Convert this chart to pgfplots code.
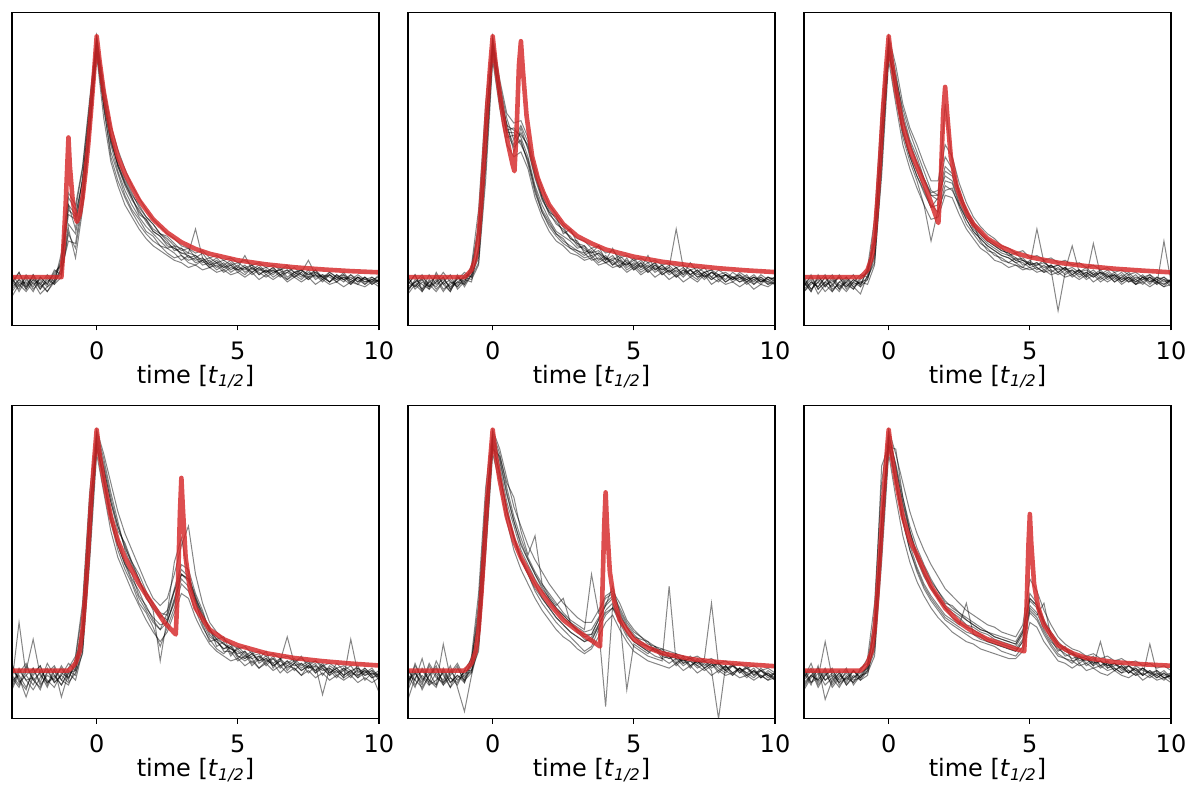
\documentclass[border=0pt]{standalone}
\usepackage{fontspec}
\setmainfont{DejaVu Sans}
\usepackage{pgfplots}
\usepackage{pgfplotstable}
\pgfplotsset{compat=1.18}
\definecolor{tred}{RGB}{214,39,40}

\pgfplotstableread{
t a b c d e f g h i j
-3 -0.05 -0.01 -0.03 0.01 -0.06 -0.02 -0.08 -0.02 0.00 -0.04
-2.75 -0.01 -0.04 0.02 -0.03 -0.02 -0.05 -0.03 0.02 -0.06 -0.01
-2.5 -0.03 0.00 -0.05 -0.02 -0.04 0.01 -0.06 -0.04 -0.01 -0.05
-2.25 0.00 -0.05 -0.01 -0.06 0.01 -0.03 -0.02 -0.01 -0.04 0.01
-2 -0.04 -0.02 -0.03 0.00 -0.05 -0.01 -0.07 -0.05 0.00 -0.03
-1.75 -0.02 -0.06 0.01 -0.03 -0.01 -0.04 -0.04 0.00 -0.03 -0.06
-1.5 0.01 -0.02 -0.02 0.03 -0.03 0.00 -0.02 -0.03 0.02 -0.01
-1.25 0.06 0.02 0.08 0.01 0.04 0.05 0.10 0.00 0.05 0.03
-1 0.28 0.22 0.33 0.18 0.26 0.30 0.35 0.20 0.30 0.15
-0.75 0.25 0.18 0.28 0.12 0.24 0.20 0.30 0.08 0.26 0.14
-0.5 0.40 0.34 0.45 0.30 0.36 0.42 0.46 0.28 0.40 0.33
-0.25 0.70 0.62 0.72 0.60 0.65 0.68 0.74 0.58 0.68 0.62
0 0.99 0.95 1.00 0.93 0.97 0.96 1.00 0.92 0.98 0.94
0.25 0.76 0.70 0.78 0.72 0.74 0.71 0.80 0.66 0.75 0.73
0.5 0.58 0.52 0.60 0.55 0.57 0.50 0.63 0.48 0.58 0.56
0.75 0.47 0.43 0.49 0.44 0.46 0.40 0.53 0.38 0.46 0.47
1 0.39 0.34 0.41 0.36 0.38 0.33 0.45 0.30 0.39 0.40
1.25 0.33 0.28 0.35 0.30 0.32 0.27 0.38 0.25 0.33 0.34
1.5 0.27 0.24 0.29 0.25 0.28 0.22 0.33 0.20 0.26 0.30
1.75 0.24 0.19 0.25 0.21 0.23 0.18 0.28 0.16 0.24 0.25
2 0.20 0.17 0.22 0.18 0.19 0.15 0.24 0.13 0.19 0.22
2.25 0.18 0.13 0.18 0.15 0.17 0.13 0.21 0.11 0.17 0.18
2.5 0.15 0.12 0.17 0.12 0.14 0.10 0.18 0.09 0.13 0.16
2.75 0.11 0.10 0.14 0.13 0.12 0.08 0.16 0.07 0.12 0.13
3 0.12 0.07 0.11 0.09 0.10 0.09 0.13 0.06 0.10 0.12
3.25 0.08 0.09 0.12 0.07 0.10 0.06 0.12 0.04 0.09 0.10
3.5 0.09 0.06 0.08 0.08 0.20 0.05 0.10 0.05 0.07 0.09
3.75 0.06 0.07 0.10 0.05 0.08 0.07 0.11 0.03 0.08 0.07
4 0.07 0.04 0.06 0.06 0.05 0.04 0.08 0.04 0.05 0.08
4.25 0.04 0.06 0.08 0.03 0.07 0.05 0.09 0.02 0.06 0.06
4.5 0.06 0.03 0.05 0.05 0.04 0.02 0.07 0.03 0.04 0.07
4.75 0.03 0.05 0.07 0.02 0.06 0.04 0.08 0.01 0.05 0.05
5 0.05 0.02 0.04 0.04 0.03 0.03 0.06 0.02 0.03 0.06
5.25 0.02 0.04 0.09 0.03 0.05 0.01 0.07 0.00 0.04 0.04
5.5 0.04 0.01 0.03 0.05 0.02 0.04 0.05 0.02 0.02 0.05
5.75 0.01 0.03 0.05 0.01 0.04 0.02 0.06 -0.01 0.04 0.03
6 0.03 0.02 0.02 0.03 0.01 0.00 0.04 0.01 0.02 0.04
6.25 0.00 0.04 0.04 0.01 0.03 0.02 0.05 -0.01 0.03 0.02
6.5 0.02 0.01 0.01 0.04 0.00 0.03 0.03 0.01 0.01 0.03
6.75 0.03 -0.01 0.03 0.00 0.02 -0.01 0.04 -0.02 0.02 0.05
7 0.01 0.02 0.00 0.02 0.04 0.01 0.02 0.00 0.00 0.02
7.25 -0.01 0.00 0.02 0.01 0.01 0.03 0.03 -0.02 0.02 0.03
7.5 0.02 0.03 0.07 -0.01 0.00 0.00 0.01 0.00 -0.01 0.01
7.75 0.00 -0.01 0.01 0.02 0.03 0.01 0.03 -0.03 0.01 0.02
8 0.01 0.01 -0.01 0.00 -0.01 -0.02 0.00 -0.01 0.00 0.00
8.25 -0.02 0.00 0.02 -0.02 0.01 0.01 0.02 -0.03 -0.02 0.01
8.5 0.00 -0.02 0.00 0.01 -0.02 -0.01 0.00 -0.02 0.01 -0.01
8.75 -0.01 0.01 -0.02 -0.01 0.00 0.02 0.01 -0.04 -0.01 0.00
9 0.01 -0.03 0.01 -0.03 -0.01 -0.02 -0.01 -0.02 0.00 -0.02
9.25 -0.02 0.00 -0.01 0.00 -0.03 0.00 0.01 -0.03 -0.02 0.00
9.5 0.00 -0.02 -0.03 -0.02 0.00 -0.03 -0.01 -0.04 0.00 -0.01
9.75 -0.03 -0.01 0.00 -0.01 -0.02 -0.01 0.00 -0.02 -0.03 -0.02
10 -0.01 -0.02 -0.02 -0.03 -0.01 0.00 -0.02 -0.04 -0.01 0.01
}\tA

\pgfplotstableread{
t a b c d e f g h i j
-3 -0.04 0.00 -0.06 -0.02 -0.03 -0.05 -0.07 0.00 -0.03 -0.05
-2.75 -0.02 -0.05 -0.01 -0.04 0.01 -0.02 -0.03 -0.04 0.01 -0.02
-2.5 -0.05 -0.02 -0.03 0.00 -0.06 -0.01 -0.06 -0.01 -0.05 0.01
-2.25 0.01 -0.04 -0.05 -0.03 -0.02 -0.04 -0.01 -0.05 -0.02 -0.04
-2 -0.03 0.01 -0.02 -0.06 0.00 -0.02 -0.05 0.02 -0.04 -0.01
-1.75 -0.01 -0.03 0.02 -0.02 -0.05 0.00 -0.02 -0.03 0.00 -0.06
-1.5 -0.04 -0.06 -0.02 0.01 -0.03 -0.05 -0.06 -0.01 -0.05 -0.02
-1.25 -0.02 0.00 -0.04 -0.05 -0.01 0.01 0.00 -0.04 -0.02 -0.03
-1 0.00 -0.03 -0.01 -0.02 0.02 -0.04 -0.02 0.00 -0.03 0.01
-0.75 0.02 0.01 -0.02 0.04 0.00 0.01 0.05 -0.01 0.03 0.00
-0.5 0.18 0.08 0.12 0.22 0.06 0.10 0.28 0.05 0.20 0.12
-0.25 0.62 0.48 0.58 0.66 0.45 0.52 0.72 0.40 0.64 0.50
0 0.98 0.96 0.99 0.94 0.92 0.97 1.00 0.90 0.97 0.95
0.25 0.78 0.72 0.80 0.75 0.74 0.77 0.82 0.70 0.79 0.73
0.5 0.62 0.60 0.66 0.61 0.64 0.58 0.68 0.55 0.63 0.60
0.75 0.55 0.60 0.57 0.62 0.52 0.59 0.64 0.50 0.61 0.54
1 0.60 0.56 0.63 0.58 0.62 0.55 0.65 0.52 0.59 0.57
1.25 0.54 0.48 0.56 0.50 0.53 0.49 0.58 0.45 0.55 0.47
1.5 0.42 0.37 0.44 0.38 0.41 0.36 0.46 0.33 0.43 0.35
1.75 0.33 0.28 0.34 0.30 0.32 0.27 0.37 0.25 0.33 0.27
2 0.26 0.23 0.28 0.24 0.27 0.21 0.30 0.19 0.27 0.22
2.25 0.23 0.18 0.24 0.19 0.25 0.17 0.26 0.15 0.22 0.18
2.5 0.19 0.16 0.21 0.17 0.18 0.14 0.22 0.13 0.20 0.15
2.75 0.17 0.12 0.16 0.15 0.20 0.12 0.19 0.10 0.16 0.13
3 0.13 0.11 0.15 0.12 0.14 0.10 0.16 0.09 0.14 0.11
3.25 0.12 0.09 0.10 0.13 0.11 0.08 0.15 0.07 0.13 0.10
3.5 0.09 0.11 0.12 0.08 0.10 0.09 0.12 0.08 0.10 0.07
3.75 0.10 0.07 0.09 0.10 0.13 0.06 0.13 0.05 0.11 0.08
4 0.07 0.09 0.06 0.08 0.07 0.08 0.10 0.06 0.08 0.06
4.25 0.09 0.05 0.08 0.06 0.12 0.05 0.11 0.04 0.07 0.07
4.5 0.05 0.08 0.07 0.04 0.06 0.07 0.08 0.05 0.09 0.04
4.75 0.07 0.04 0.05 0.08 0.05 0.03 0.09 0.02 0.06 0.06
5 0.04 0.06 0.08 0.03 0.07 0.05 0.07 0.04 0.05 0.03
5.25 0.06 0.03 0.04 0.06 0.04 0.02 0.08 0.01 0.07 0.05
5.5 0.03 0.05 0.06 0.02 0.09 0.04 0.06 0.03 0.04 0.02
5.75 0.05 0.02 0.03 0.05 0.03 0.06 0.07 0.00 0.06 0.04
6 0.02 0.04 0.05 0.03 0.05 0.01 0.05 0.02 0.03 0.01
6.25 0.04 0.01 0.02 0.04 0.02 0.03 0.06 -0.01 0.05 0.03
6.5 0.01 0.03 0.04 0.20 0.04 0.00 0.04 0.01 0.02 0.00
6.75 0.03 0.00 0.01 0.04 0.01 0.03 0.05 -0.02 0.04 0.02
7 0.00 0.03 0.03 0.01 0.06 0.01 0.03 0.00 0.01 0.03
7.25 0.02 0.01 0.00 0.03 0.02 -0.01 0.04 -0.02 0.03 0.00
7.5 -0.01 0.02 0.02 0.00 0.04 0.02 0.02 0.01 0.00 0.01
7.75 0.02 -0.01 0.03 0.02 0.00 0.00 0.03 -0.03 0.02 -0.01
8 0.00 0.01 -0.01 0.01 0.03 -0.02 0.01 -0.01 0.00 0.01
8.25 0.01 -0.02 0.01 -0.01 0.01 0.01 0.02 -0.03 0.01 -0.02
8.5 -0.02 0.00 0.00 0.02 -0.01 -0.01 0.00 -0.02 -0.01 0.00
8.75 0.00 -0.01 -0.02 0.00 0.02 0.00 0.01 -0.04 0.01 -0.02
9 -0.01 0.01 0.00 -0.02 0.00 -0.03 -0.01 -0.02 -0.02 -0.01
9.25 0.01 -0.03 -0.01 0.00 -0.02 -0.01 0.00 -0.05 0.00 -0.03
9.5 -0.02 -0.01 -0.03 -0.02 0.01 0.00 -0.02 -0.03 -0.01 0.00
9.75 0.00 -0.02 0.00 -0.01 -0.01 -0.03 0.00 -0.04 -0.03 -0.02
10 -0.01 0.00 -0.02 -0.03 0.00 -0.01 -0.01 -0.02 -0.02 -0.03
}\tB

\pgfplotstableread{
t a b c d e f g h i j
-3 -0.03 -0.06 0.00 -0.04 -0.02 -0.05 -0.06 -0.01 -0.04 -0.02
-2.75 0.00 -0.03 -0.05 -0.01 -0.06 -0.02 -0.02 -0.05 0.01 -0.06
-2.5 -0.05 -0.01 -0.02 -0.07 0.01 -0.04 -0.04 -0.02 -0.05 0.00
-2.25 -0.02 -0.04 0.01 -0.03 -0.04 0.00 0.00 -0.06 -0.02 -0.03
-2 -0.04 0.00 -0.06 -0.02 -0.01 -0.03 -0.05 -0.03 0.01 -0.06
-1.75 0.01 -0.05 -0.02 0.00 -0.05 -0.06 -0.03 0.00 -0.04 -0.02
-1.5 -0.03 -0.02 -0.04 -0.05 0.00 -0.01 -0.06 -0.04 -0.02 0.00
-1.25 -0.05 0.01 -0.01 -0.02 -0.03 -0.04 -0.02 -0.01 -0.05 -0.04
-1 -0.01 -0.04 -0.03 0.01 -0.02 -0.07 -0.04 -0.03 0.00 -0.02
-0.75 0.02 -0.01 0.03 0.00 -0.03 0.01 0.04 0.00 0.02 -0.01
-0.5 0.15 0.08 0.18 0.10 0.05 0.14 0.24 0.06 0.16 0.10
-0.25 0.60 0.50 0.63 0.52 0.45 0.58 0.70 0.42 0.60 0.50
0 0.98 0.95 0.99 0.93 0.96 0.91 1.00 0.90 0.97 0.94
0.25 0.82 0.76 0.85 0.80 0.78 0.83 0.88 0.72 0.82 0.77
0.5 0.65 0.58 0.68 0.62 0.60 0.70 0.72 0.55 0.66 0.60
0.75 0.55 0.48 0.57 0.51 0.50 0.60 0.62 0.45 0.56 0.50
1 0.47 0.40 0.50 0.44 0.42 0.52 0.55 0.37 0.48 0.42
1.25 0.40 0.30 0.41 0.37 0.36 0.44 0.47 0.30 0.41 0.35
1.5 0.34 0.15 0.35 0.30 0.29 0.36 0.40 0.24 0.34 0.29
1.75 0.32 0.28 0.36 0.27 0.33 0.34 0.40 0.25 0.34 0.30
2 0.44 0.36 0.50 0.38 0.72 0.42 0.55 0.34 0.46 0.40
2.25 0.42 0.37 0.45 0.36 0.48 0.40 0.50 0.33 0.43 0.39
2.5 0.33 0.29 0.36 0.30 0.34 0.31 0.39 0.26 0.35 0.30
2.75 0.27 0.22 0.28 0.24 0.26 0.25 0.31 0.20 0.28 0.24
3 0.21 0.18 0.23 0.19 0.20 0.22 0.25 0.16 0.22 0.19
3.25 0.18 0.14 0.19 0.16 0.17 0.15 0.21 0.12 0.18 0.16
3.5 0.15 0.12 0.16 0.13 0.14 0.11 0.18 0.10 0.15 0.13
3.75 0.13 0.09 0.14 0.11 0.12 0.10 0.16 0.07 0.13 0.11
4 0.11 0.08 0.12 0.09 0.10 0.07 0.13 0.06 0.11 0.09
4.25 0.10 0.06 0.09 0.08 0.09 0.06 0.12 0.04 0.10 0.08
4.5 0.07 0.08 0.10 0.06 0.07 0.05 0.10 0.05 0.08 0.06
4.75 0.08 0.05 0.07 0.04 0.06 0.04 0.11 0.03 0.07 0.07
5 0.05 0.06 0.05 0.07 0.04 0.03 0.08 0.04 0.06 0.05
5.25 0.06 0.03 0.20 0.04 0.05 0.04 0.09 0.02 0.05 0.06
5.5 0.04 0.05 0.06 0.02 0.07 0.02 0.07 0.03 0.06 0.03
5.75 0.05 0.02 0.04 0.05 0.03 0.03 0.08 0.01 0.04 0.05
6 0.03 0.04 0.05 0.02 -0.14 0.01 0.06 0.02 0.05 0.02
6.25 0.04 0.01 0.03 0.04 0.02 0.03 0.07 0.00 0.03 0.04
6.5 0.02 0.03 0.13 0.01 0.03 0.00 0.05 0.01 0.04 0.01
6.75 0.03 0.00 0.02 0.03 0.01 0.02 0.06 -0.01 0.02 0.03
7 0.01 0.02 0.04 0.00 0.02 -0.01 0.04 0.01 0.03 0.00
7.25 0.03 0.00 0.01 0.14 0.00 0.01 0.05 -0.02 0.01 0.02
7.5 0.00 0.02 0.03 0.01 0.02 -0.02 0.03 0.00 0.02 -0.01
7.75 0.02 -0.01 0.00 0.03 0.01 0.00 0.04 -0.02 0.00 0.01
8 -0.01 0.01 0.02 0.00 -0.02 0.01 0.02 0.00 0.01 -0.02
8.25 0.01 -0.02 -0.01 0.02 0.00 -0.02 0.03 -0.03 -0.01 0.00
8.5 -0.02 0.00 0.01 -0.01 0.02 0.00 0.01 -0.01 0.00 -0.02
8.75 0.00 -0.03 -0.02 0.01 -0.01 -0.03 0.02 -0.03 -0.02 -0.01
9 -0.01 0.00 0.00 -0.02 0.01 -0.01 0.00 -0.02 0.00 -0.03
9.25 0.01 -0.02 -0.03 0.00 -0.02 0.00 0.01 -0.04 -0.01 0.00
9.5 -0.02 -0.01 0.00 -0.03 0.00 -0.02 -0.01 -0.02 -0.03 -0.02
9.75 0.00 -0.03 -0.02 0.15 -0.01 -0.04 0.00 -0.04 -0.01 -0.03
10 -0.03 -0.01 -0.01 -0.02 -0.04 -0.01 -0.02 -0.03 -0.02 -0.01
}\tC

\pgfplotstableread{
t a b c d e f g h i j
-3 -0.05 0.02 -0.08 -0.03 0.00 -0.06 -0.02 -0.07 0.03 -0.04
-2.75 0.20 -0.04 -0.01 -0.07 -0.03 0.01 -0.06 0.00 -0.05 -0.02
-2.5 -0.02 -0.08 0.03 0.00 -0.11 -0.04 0.02 -0.04 -0.02 -0.07
-2.25 -0.06 0.01 -0.04 0.13 -0.02 -0.03 -0.04 -0.08 0.01 -0.01
-2 0.00 -0.05 -0.07 -0.02 0.02 -0.08 -0.01 -0.03 -0.06 0.02
-1.75 -0.04 0.03 -0.01 -0.05 -0.06 0.00 -0.07 0.01 -0.02 -0.05
-1.5 -0.07 -0.02 0.02 -0.03 0.01 -0.05 0.00 -0.05 -0.04 -0.02
-1.25 -0.01 -0.06 -0.04 0.01 -0.11 -0.02 -0.04 -0.02 0.02 -0.06
-1 -0.03 0.00 -0.06 -0.04 -0.01 0.03 0.01 -0.05 -0.03 -0.01
-0.75 0.03 -0.02 0.01 0.05 -0.04 0.00 0.06 -0.01 0.02 0.00
-0.5 0.20 0.10 0.16 0.25 0.08 0.14 0.28 0.07 0.18 0.12
-0.25 0.66 0.52 0.62 0.70 0.48 0.60 0.74 0.45 0.64 0.55
0 0.98 0.94 0.99 0.92 0.96 0.95 1.00 0.90 0.97 0.93
0.25 0.86 0.78 0.88 0.82 0.80 0.84 0.90 0.74 0.84 0.79
0.5 0.72 0.62 0.74 0.66 0.64 0.70 0.78 0.58 0.70 0.63
0.75 0.60 0.50 0.62 0.55 0.52 0.58 0.66 0.47 0.60 0.52
1 0.52 0.42 0.50 0.45 0.44 0.53 0.57 0.40 0.51 0.44
1.25 0.44 0.36 0.43 0.38 0.40 0.45 0.50 0.33 0.45 0.37
1.5 0.38 0.28 0.37 0.33 0.31 0.40 0.43 0.27 0.38 0.30
1.75 0.30 0.24 0.32 0.26 0.27 0.33 0.36 0.21 0.31 0.25
2 0.26 0.18 0.28 0.22 0.21 0.27 0.30 0.16 0.25 0.20
2.25 0.22 0.10 0.24 0.19 0.17 0.23 0.27 0.12 0.04 0.17
2.5 0.25 0.18 0.23 0.20 0.24 0.21 0.30 0.16 0.22 0.20
2.75 0.33 0.26 0.34 0.29 0.45 0.28 0.40 0.24 0.33 0.30
3 0.42 0.36 0.44 0.38 0.55 0.40 0.52 0.32 0.40 0.40
3.25 0.39 0.33 0.42 0.35 0.40 0.37 0.60 0.30 0.38 0.38
3.5 0.31 0.25 0.32 0.28 0.30 0.29 0.40 0.22 0.30 0.29
3.75 0.23 0.18 0.25 0.20 0.22 0.19 0.28 0.16 0.24 0.22
4 0.17 0.13 0.16 0.14 0.18 0.12 0.20 0.11 0.17 0.15
4.25 0.14 0.09 0.13 0.12 0.10 0.13 0.16 0.08 0.13 0.12
4.5 0.11 0.07 0.14 0.09 0.12 0.08 0.13 0.06 0.11 0.09
4.75 0.09 0.10 0.07 0.11 0.06 0.08 0.11 0.04 0.09 0.10
5 0.08 0.05 0.09 0.06 0.10 0.04 0.09 0.05 0.07 0.06
5.25 0.05 0.08 0.06 0.04 0.07 0.06 0.10 0.02 0.08 0.05
5.5 0.07 0.03 0.08 0.06 0.02 0.05 0.07 0.04 0.05 0.07
5.75 0.04 0.06 0.03 0.07 0.05 0.01 0.08 0.01 0.06 0.04
6 0.06 0.02 0.05 0.03 0.08 0.04 0.06 0.03 0.04 0.05
6.25 0.03 0.05 0.02 0.06 0.01 0.03 0.07 0.00 0.05 0.02
6.5 0.05 0.01 0.04 0.02 0.05 -0.01 0.05 0.02 0.02 0.04
6.75 0.02 0.04 0.14 0.03 0.00 0.02 0.06 -0.01 0.04 0.01
7 0.04 0.00 0.03 0.05 0.03 0.01 0.04 0.01 0.02 0.03
7.25 0.01 0.03 0.00 0.02 0.06 -0.02 0.05 -0.02 0.03 0.00
7.5 0.03 -0.01 0.02 0.04 0.01 0.02 0.03 0.00 0.01 0.02
7.75 0.00 0.02 0.04 -0.01 0.03 0.00 0.04 -0.03 0.02 -0.01
8 0.02 -0.10 0.01 0.02 -0.02 0.03 0.02 -0.01 0.00 0.01
8.25 -0.01 0.01 -0.02 0.00 0.02 -0.01 0.03 -0.04 0.01 -0.02
8.5 0.01 -0.02 0.03 -0.03 0.00 0.01 0.01 -0.02 -0.01 0.00
8.75 -0.02 0.00 0.00 0.01 -0.03 -0.02 0.02 -0.04 0.01 -0.03
9 0.00 -0.03 0.02 -0.01 0.13 0.00 0.00 -0.02 -0.02 -0.01
9.25 -0.03 0.01 -0.02 0.02 -0.01 -0.03 0.01 -0.05 0.00 -0.02
9.5 0.01 -0.02 0.00 -0.04 0.01 -0.01 -0.01 -0.03 -0.02 0.00
9.75 -0.02 0.00 -0.03 -0.01 -0.02 0.01 0.00 -0.05 -0.01 -0.03
10 0.00 -0.04 -0.01 -0.02 -0.09 -0.03 -0.02 -0.03 -0.03 -0.02
}\tD

\pgfplotstableread{
t a b c d e f g h i j
-3 -0.04 0.01 -0.07 -0.02 -0.05 -0.12 -0.02 -0.08 0.00 -0.05
-2.75 -0.01 -0.06 0.03 -0.04 0.00 -0.03 -0.07 -0.01 -0.04 0.02
-2.5 -0.06 -0.02 -0.04 0.05 -0.08 0.00 0.01 -0.05 -0.07 -0.03
-2.25 0.02 -0.05 -0.01 -0.06 -0.02 -0.04 -0.04 0.03 -0.02 -0.06
-2 -0.03 0.04 -0.06 -0.01 0.02 -0.07 -0.06 -0.02 0.01 -0.04
-1.75 -0.05 -0.02 0.11 -0.04 -0.06 0.01 0.00 -0.06 -0.05 -0.01
-1.5 0.00 -0.07 -0.03 0.02 -0.01 -0.05 -0.05 -0.03 -0.02 -0.07
-1.25 -0.04 0.01 -0.05 -0.07 0.03 -0.02 -0.02 -0.06 0.02 -0.03
-1 -0.02 -0.04 0.00 -0.17 -0.03 -0.05 -0.04 0.00 -0.05 -0.01
-0.75 0.03 -0.01 0.05 -0.02 0.00 0.04 0.06 0.00 0.02 -0.01
-0.5 0.25 0.14 0.22 0.10 0.18 0.28 0.32 0.08 0.20 0.12
-0.25 0.68 0.56 0.66 0.50 0.60 0.70 0.76 0.48 0.64 0.55
0 0.98 0.95 0.99 0.93 0.96 0.92 1.00 0.90 0.97 0.94
0.25 0.88 0.82 0.90 0.80 0.85 0.89 0.92 0.78 0.87 0.82
0.5 0.74 0.66 0.76 0.68 0.70 0.78 0.80 0.62 0.73 0.66
0.75 0.62 0.55 0.64 0.56 0.60 0.72 0.68 0.50 0.62 0.55
1 0.53 0.46 0.55 0.47 0.50 0.58 0.60 0.42 0.52 0.46
1.25 0.46 0.40 0.47 0.41 0.44 0.48 0.52 0.36 0.46 0.40
1.5 0.40 0.33 0.41 0.36 0.38 0.56 0.46 0.30 0.40 0.34
1.75 0.35 0.28 0.36 0.30 0.33 0.36 0.41 0.25 0.34 0.30
2 0.30 0.24 0.32 0.26 0.29 0.31 0.36 0.21 0.30 0.26
2.25 0.26 0.20 0.28 0.22 0.25 0.27 0.32 0.17 0.26 0.22
2.5 0.23 0.17 0.24 0.19 0.22 0.30 0.28 0.14 0.23 0.19
2.75 0.20 0.14 0.21 0.16 0.19 0.20 0.25 0.12 0.20 0.16
3 0.18 0.11 0.19 0.14 0.17 0.16 0.22 0.09 0.17 0.14
3.25 0.16 0.08 0.17 0.12 0.14 0.13 0.20 0.07 0.15 0.12
3.5 0.17 0.10 0.40 0.13 0.15 0.12 0.20 0.09 0.15 0.14
3.75 0.22 0.17 0.24 0.18 0.21 0.19 0.25 0.14 0.21 0.19
4 0.28 0.23 0.30 -0.15 0.27 0.25 0.31 0.20 0.27 0.24
4.25 0.31 0.26 0.32 0.27 0.35 0.28 0.33 0.23 0.30 0.26
4.5 0.25 0.20 0.26 0.21 0.24 0.22 0.28 0.17 0.23 0.22
4.75 0.19 0.14 0.20 0.16 0.18 -0.08 0.21 0.12 0.18 0.15
5 0.15 0.10 0.16 0.12 0.14 0.11 0.17 0.08 0.14 0.12
5.25 0.12 0.08 0.14 0.10 0.13 0.09 0.14 0.06 0.11 0.10
5.5 0.10 0.06 0.11 0.08 0.12 0.07 0.12 0.04 0.10 0.08
5.75 0.09 0.05 0.10 0.06 0.08 0.10 0.10 0.03 0.08 0.09
6 0.07 0.04 0.08 0.05 0.09 0.06 0.09 0.02 0.07 0.05
6.25 0.06 0.35 0.07 0.03 0.06 0.05 0.08 0.01 0.05 0.06
6.5 0.05 0.03 0.06 0.05 0.02 0.07 0.07 0.03 0.06 0.03
6.75 0.04 0.06 0.03 0.02 0.05 0.03 0.06 0.00 0.04 0.05
7 0.05 0.02 0.06 0.04 0.01 0.04 0.05 0.02 0.05 0.02
7.25 0.02 0.04 0.03 0.01 0.05 0.02 0.06 -0.01 0.03 0.04
7.5 0.04 0.01 0.05 0.03 0.02 0.00 0.04 0.01 0.04 0.01
7.75 0.01 0.03 0.28 0.00 0.04 0.02 0.05 -0.02 0.02 0.03
8 0.03 -0.01 0.02 -0.20 0.01 0.03 0.03 0.00 0.03 0.00
8.25 0.00 0.02 0.00 0.02 -0.01 0.00 0.04 -0.02 0.01 0.02
8.5 0.02 -0.01 0.03 -0.02 0.02 -0.02 0.02 -0.01 0.02 -0.01
8.75 -0.01 0.01 -0.01 0.01 0.00 0.01 0.03 -0.03 0.00 0.01
9 0.01 -0.02 0.02 -0.01 -0.03 -0.01 0.01 -0.02 0.01 -0.02
9.25 -0.02 0.00 -0.02 0.01 0.00 -0.03 0.02 -0.04 -0.01 0.00
9.5 0.00 -0.03 0.01 -0.03 -0.02 0.00 0.00 -0.02 0.00 -0.03
9.75 -0.03 -0.01 -0.02 0.00 -0.04 -0.02 0.01 -0.04 -0.02 -0.01
10 -0.01 -0.04 -0.03 -0.02 -0.01 -0.04 -0.01 -0.03 -0.01 -0.03
}\tE

\pgfplotstableread{
t a b c d e f g h i j
-3 -0.03 -0.07 0.01 -0.04 -0.01 -0.05 -0.06 0.00 -0.03 -0.08
-2.75 0.03 -0.02 -0.05 0.00 -0.06 -0.02 -0.02 -0.05 0.01 -0.03
-2.5 -0.05 0.01 -0.03 -0.07 0.02 -0.04 -0.04 -0.01 -0.06 0.00
-2.25 -0.01 -0.04 0.12 -0.02 -0.12 0.00 0.01 -0.06 -0.02 -0.04
-2 -0.06 -0.01 -0.03 0.01 -0.04 -0.07 -0.05 -0.03 0.00 -0.02
-1.75 -0.02 -0.05 0.00 -0.06 -0.01 -0.03 -0.01 -0.07 -0.04 -0.05
-1.5 -0.04 0.00 -0.06 -0.03 -0.05 0.01 -0.06 -0.02 -0.01 -0.03
-1.25 0.00 -0.03 -0.02 -0.05 0.00 -0.06 -0.03 -0.05 -0.04 0.00
-1 -0.03 -0.01 -0.04 0.01 -0.03 -0.02 0.00 -0.02 -0.03 -0.04
-0.75 0.02 0.01 -0.02 0.03 0.00 0.02 0.05 -0.01 0.01 0.00
-0.5 0.18 0.10 0.13 0.22 0.08 0.16 0.28 0.06 0.17 0.11
-0.25 0.65 0.55 0.60 0.85 0.50 0.62 0.78 0.45 0.62 0.52
0 0.98 0.95 0.99 0.93 0.94 0.96 1.00 0.90 0.97 0.93
0.25 0.85 0.78 0.84 0.92 0.80 0.82 0.90 0.72 0.86 0.78
0.5 0.69 0.62 0.70 0.72 0.63 0.66 0.78 0.56 0.72 0.62
0.75 0.57 0.50 0.58 0.58 0.52 0.55 0.66 0.45 0.60 0.50
1 0.48 0.41 0.49 0.47 0.43 0.46 0.57 0.37 0.51 0.42
1.25 0.41 0.34 0.43 0.40 0.36 0.39 0.50 0.31 0.44 0.35
1.5 0.35 0.29 0.37 0.35 0.31 0.34 0.44 0.26 0.38 0.30
1.75 0.31 0.25 0.33 0.30 0.27 0.30 0.39 0.22 0.33 0.26
2 0.27 0.21 0.28 0.26 0.23 0.26 0.34 0.19 0.29 0.22
2.25 0.25 0.19 0.27 0.22 0.21 0.24 0.31 0.16 0.26 0.20
2.5 0.23 0.17 0.24 0.20 0.19 0.22 0.28 0.14 0.24 0.18
2.75 0.21 0.15 0.22 0.18 0.28 0.19 0.25 0.12 0.21 0.16
3 0.19 0.13 0.20 0.17 0.15 0.18 0.23 0.11 0.19 0.15
3.25 0.17 0.12 0.18 0.15 0.14 0.16 0.21 0.09 0.17 0.13
3.5 0.16 0.11 0.16 0.13 0.12 0.15 0.19 0.08 0.16 0.12
3.75 0.14 0.10 0.15 0.12 0.11 0.13 0.18 0.07 0.14 0.11
4 0.13 0.08 0.14 0.11 0.10 0.12 0.16 0.06 0.13 0.10
4.25 0.12 0.07 0.13 0.10 0.09 0.11 0.15 0.05 0.12 0.09
4.5 0.11 0.06 0.12 0.09 0.08 0.10 0.14 0.05 0.11 0.08
4.75 0.16 0.10 0.17 0.13 0.12 0.15 0.19 0.08 0.16 0.12
5 0.30 0.24 0.32 0.27 0.26 0.29 0.38 0.20 0.30 0.25
5.25 0.27 0.21 0.28 0.24 0.23 0.26 0.33 0.18 0.27 0.22
5.5 0.20 0.15 0.21 0.17 0.28 0.19 0.25 0.12 0.20 0.16
5.75 0.15 0.10 0.16 0.12 0.14 0.13 0.19 0.08 0.15 0.11
6 0.11 0.06 0.12 0.09 0.10 0.08 0.14 0.04 0.11 0.07
6.25 0.08 0.05 0.09 0.07 0.06 0.10 0.11 0.03 0.09 0.05
6.5 0.07 0.03 0.08 0.05 0.07 0.04 0.09 0.01 0.07 0.04
6.75 0.05 0.06 0.04 0.06 0.03 0.05 0.08 0.03 0.06 0.02
7 0.06 0.02 0.05 0.03 0.05 0.04 0.06 0.00 0.05 0.03
7.25 0.03 0.04 0.02 0.05 0.02 0.06 0.07 0.01 0.03 0.01
7.5 0.04 0.01 0.12 0.02 0.04 0.02 0.05 -0.01 0.04 0.02
7.75 0.02 0.03 0.01 0.04 0.01 0.03 0.06 -0.02 0.02 0.00
8 0.03 0.00 0.03 0.01 0.02 0.00 0.04 0.00 0.03 0.01
8.25 0.00 0.02 0.01 -0.01 0.03 0.02 0.05 -0.02 0.01 -0.01
8.5 0.02 -0.01 -0.01 0.02 0.00 -0.01 0.03 -0.03 0.02 0.00
8.75 -0.01 0.01 0.02 0.00 -0.02 0.01 0.04 -0.01 0.00 -0.02
9 0.01 -0.02 0.00 -0.02 0.01 -0.02 0.02 -0.04 0.01 -0.01
9.25 -0.02 0.00 -0.01 0.11 -0.01 0.00 0.03 -0.02 -0.01 -0.03
9.5 0.00 -0.03 -0.02 -0.01 -0.03 -0.02 0.01 -0.04 0.00 -0.01
9.75 -0.03 -0.01 0.00 -0.03 -0.01 -0.04 0.02 -0.03 -0.02 -0.03
10 -0.02 -0.03 -0.03 -0.02 -0.04 -0.01 0.00 -0.05 -0.01 -0.02
}\tF

\pgfplotsset{
  panel/.style={
    scale only axis, width=183.5pt, height=156.5pt,
    anchor=north west,
    xmin=-3, xmax=10, ymin=-0.2, ymax=1.1,
    xtick={0,5,10}, ytick=\empty,
    xtick pos=bottom, tick align=outside,
    major tick length=2.5pt,
    every tick/.style={black, line width=0.6pt},
    axis line style={line width=0.6pt},
    axis on top,
    /pgf/number format/assume math mode=true,
    ticklabel style={font=\fontsize{12}{14}\selectfont},
    xticklabel style={anchor=base, yshift=-14.5pt},
    xlabel={time [\textit{t}\textsubscript{\textit{1/2}}]},
    xlabel style={font=\fontsize{12}{14}\selectfont, at={(axis description cs:0.5,0)}, anchor=base, yshift=-29pt},
  },
  gr/.style={black, opacity=0.48, line width=0.5pt},
  rd/.style={tred, opacity=0.82, line width=2.3pt, line join=round},
}

\begin{document}
\begin{tikzpicture}
\useasboundingbox (0,0) rectangle (600pt,400pt);

\begin{axis}[panel, at={(6pt,393.85pt)}]
\pgfplotsinvokeforeach{a,b,c,d,e,f,g,h,i,j}{\addplot[gr] table[x=t,y=#1]{\tA};}
\addplot[rd] coordinates {(-3,0) (-1.25,0) (-1.2,0.08) (-1.1,0.3) (-1.0,0.58) (-0.95,0.46) (-0.85,0.32) (-0.75,0.25) (-0.7,0.23) (-0.6,0.26) (-0.5,0.33) (-0.4,0.43) (-0.3,0.55) (-0.2,0.69) (-0.1,0.84) (0,1) (0.1,0.9) (0.25,0.77) (0.5,0.61) (0.75,0.5) (1,0.43) (1.5,0.32) (2,0.24) (2.5,0.185) (3,0.145) (3.5,0.117) (4,0.097) (5,0.07) (6,0.053) (7,0.041) (8,0.032) (9,0.025) (10,0.02)};
\end{axis}

\begin{axis}[panel, at={(204pt,393.85pt)}]
\pgfplotsinvokeforeach{a,b,c,d,e,f,g,h,i,j}{\addplot[gr] table[x=t,y=#1]{\tB};}
\addplot[rd] coordinates {(-3,0) (-1,0) (-0.9,0.01) (-0.75,0.03) (-0.6,0.08) (-0.5,0.17) (-0.4,0.32) (-0.3,0.5) (-0.2,0.7) (-0.1,0.86) (0,1) (0.1,0.89) (0.25,0.76) (0.4,0.64) (0.55,0.55) (0.7,0.47) (0.77,0.44) (0.85,0.62) (0.93,0.88) (1.0,0.98) (1.07,0.86) (1.2,0.67) (1.4,0.5) (1.6,0.41) (1.8,0.35) (2,0.3) (2.5,0.22) (3,0.17) (3.5,0.14) (4,0.115) (5,0.085) (6,0.064) (7,0.049) (8,0.037) (9,0.028) (10,0.021)};
\end{axis}

\begin{axis}[panel, at={(402pt,393.85pt)}]
\pgfplotsinvokeforeach{a,b,c,d,e,f,g,h,i,j}{\addplot[gr] table[x=t,y=#1]{\tC};}
\addplot[rd] coordinates {(-3,0) (-1,0) (-0.9,0.01) (-0.75,0.03) (-0.6,0.08) (-0.5,0.17) (-0.4,0.32) (-0.3,0.5) (-0.2,0.7) (-0.1,0.86) (0,1) (0.1,0.9) (0.25,0.78) (0.5,0.63) (0.75,0.53) (1,0.46) (1.25,0.39) (1.5,0.31) (1.65,0.26) (1.76,0.225) (1.85,0.42) (1.93,0.68) (2.0,0.79) (2.07,0.68) (2.2,0.5) (2.4,0.38) (2.6,0.31) (2.8,0.26) (3,0.22) (3.5,0.16) (4,0.125) (4.5,0.1) (5,0.083) (6,0.06) (7,0.046) (8,0.035) (9,0.027) (10,0.02)};
\end{axis}

\begin{axis}[panel, at={(6pt,197.15pt)}]
\pgfplotsinvokeforeach{a,b,c,d,e,f,g,h,i,j}{\addplot[gr] table[x=t,y=#1]{\tD};}
\addplot[rd] coordinates {(-3,0) (-1,0) (-0.9,0.01) (-0.75,0.03) (-0.6,0.08) (-0.5,0.17) (-0.4,0.32) (-0.3,0.5) (-0.2,0.7) (-0.1,0.86) (0,1) (0.1,0.9) (0.25,0.79) (0.5,0.64) (0.75,0.54) (1,0.47) (1.5,0.36) (2,0.27) (2.4,0.2) (2.8,0.15) (2.88,0.36) (2.95,0.66) (3.0,0.8) (3.05,0.68) (3.15,0.47) (3.3,0.34) (3.5,0.26) (4,0.17) (4.5,0.13) (5,0.105) (6,0.072) (7,0.052) (8,0.039) (9,0.029) (10,0.021)};
\end{axis}

\begin{axis}[panel, at={(204pt,197.15pt)}]
\pgfplotsinvokeforeach{a,b,c,d,e,f,g,h,i,j}{\addplot[gr] table[x=t,y=#1]{\tE};}
\addplot[rd] coordinates {(-3,0) (-1,0) (-0.9,0.01) (-0.75,0.03) (-0.6,0.08) (-0.5,0.17) (-0.4,0.32) (-0.3,0.5) (-0.2,0.7) (-0.1,0.86) (0,1) (0.1,0.9) (0.25,0.79) (0.5,0.64) (0.75,0.54) (1,0.47) (1.5,0.36) (2,0.28) (2.5,0.21) (3,0.165) (3.5,0.125) (3.8,0.10) (3.88,0.3) (3.95,0.6) (4.0,0.74) (4.05,0.6) (4.15,0.41) (4.3,0.29) (4.5,0.21) (5,0.13) (5.5,0.095) (6,0.072) (7,0.048) (8,0.035) (9,0.026) (10,0.018)};
\end{axis}

\begin{axis}[panel, at={(402pt,197.15pt)}]
\pgfplotsinvokeforeach{a,b,c,d,e,f,g,h,i,j}{\addplot[gr] table[x=t,y=#1]{\tF};}
\addplot[rd] coordinates {(-3,0) (-1,0) (-0.9,0.01) (-0.75,0.03) (-0.6,0.08) (-0.5,0.17) (-0.4,0.32) (-0.3,0.5) (-0.2,0.7) (-0.1,0.86) (0,1) (0.1,0.9) (0.25,0.79) (0.5,0.64) (0.75,0.54) (1,0.48) (1.5,0.35) (2,0.26) (2.5,0.2) (3,0.16) (3.5,0.13) (4,0.11) (4.5,0.09) (4.8,0.08) (4.88,0.25) (4.95,0.52) (5.0,0.65) (5.05,0.53) (5.15,0.36) (5.3,0.26) (5.5,0.19) (6,0.105) (6.5,0.072) (7,0.052) (8,0.035) (9,0.026) (10,0.02)};
\end{axis}
\end{tikzpicture}
\end{document}
